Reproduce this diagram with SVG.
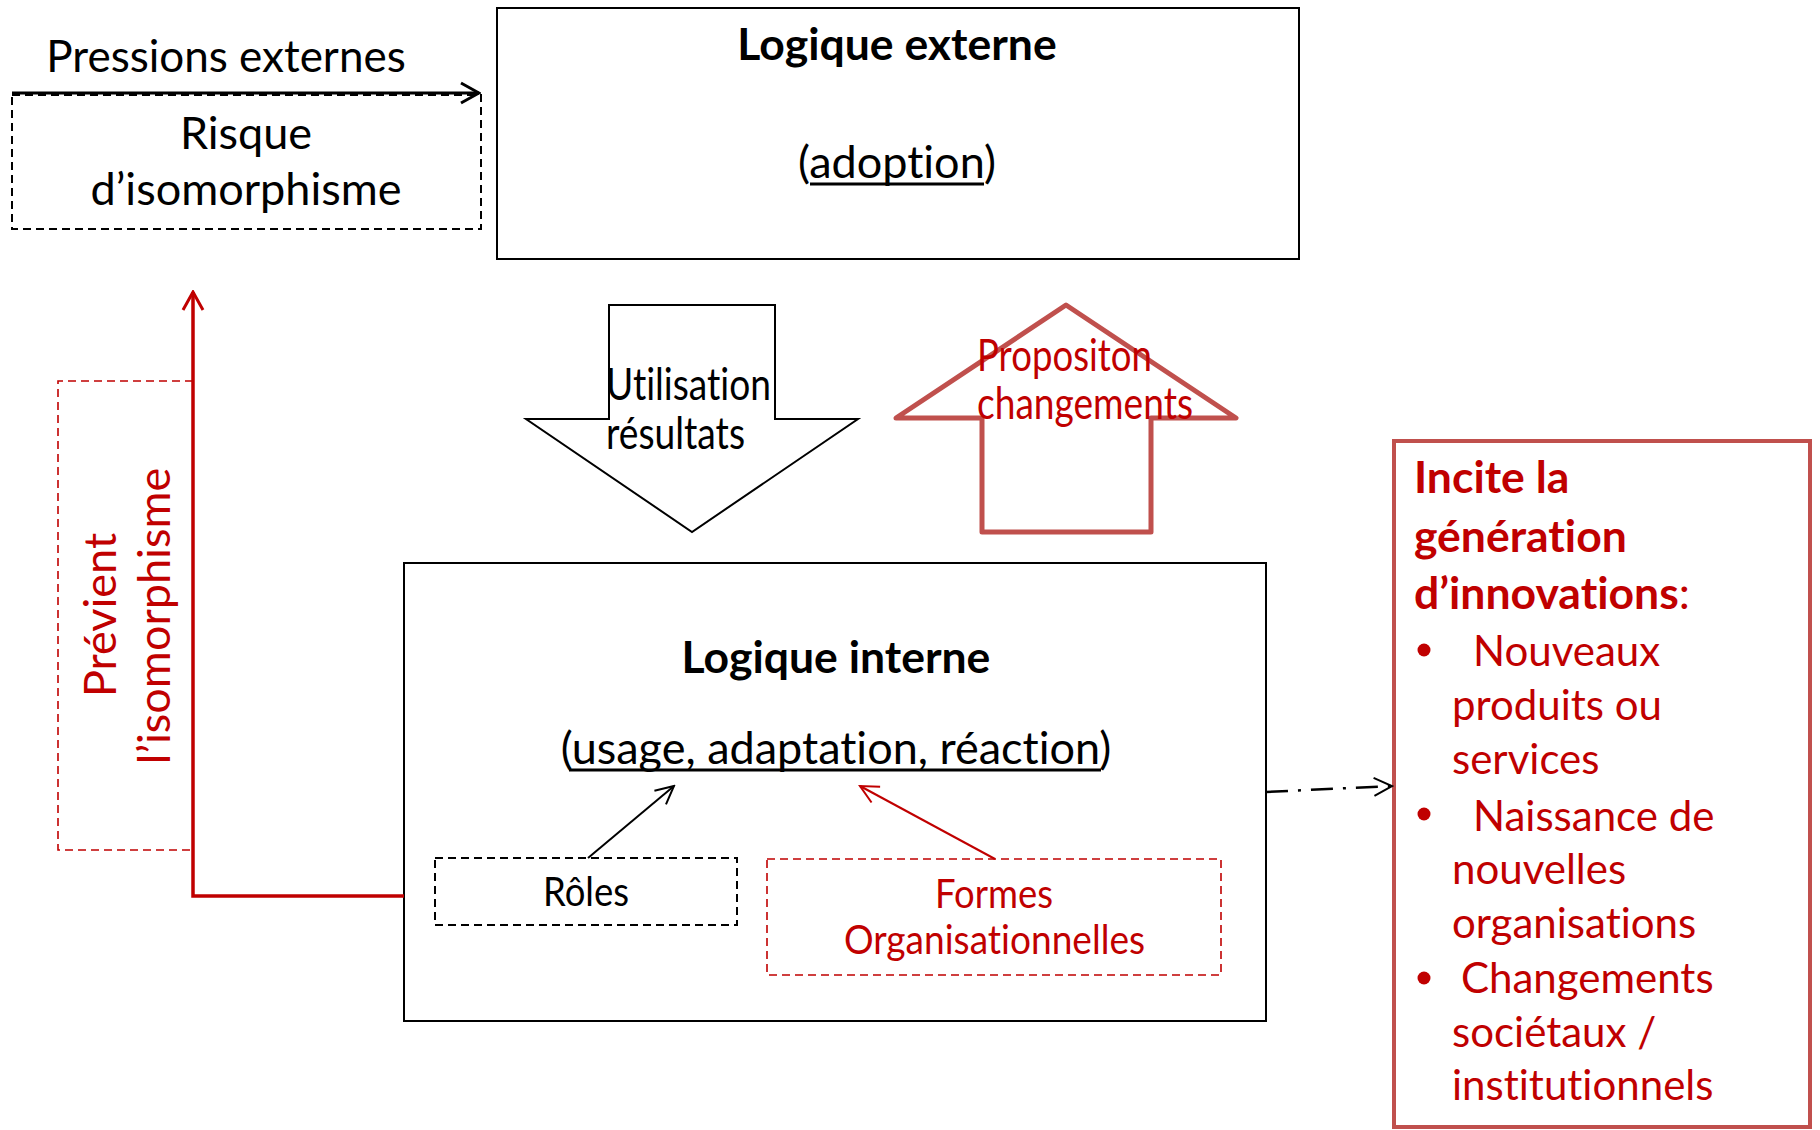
<svg xmlns="http://www.w3.org/2000/svg" width="1820" height="1130" viewBox="0 0 1820 1130">
<defs>
<style>
text{font-family:Lato,"Open Sans","Liberation Sans",sans-serif;font-variant-ligatures:none;}
.k{fill:#000;}
.r{fill:#C00000;}
.b{font-weight:bold;}
.s45{font-size:45px;}
.sb{font-size:44.5px;font-weight:bold;}
.s40{font-size:40px;}
.s42{font-size:42px;}
.s44{font-size:44px;}
.box{fill:#fff;stroke:#000;stroke-width:2;}
.dash{fill:none;stroke:#000;stroke-width:2;stroke-dasharray:8,5;}
.rdash{fill:none;stroke:#C00000;stroke-width:1.6;stroke-dasharray:8,5;}
</style>
<marker id="ak" markerUnits="userSpaceOnUse" viewBox="0 0 22 24" refX="20" refY="12" markerWidth="22" markerHeight="24" orient="auto">
<path d="M2,2 L20,12 L2,22" fill="none" stroke="#000" stroke-width="3"/>
</marker>
<marker id="ak2" markerUnits="userSpaceOnUse" viewBox="0 0 22 24" refX="20" refY="12" markerWidth="22" markerHeight="24" orient="auto">
<path d="M2,3 L20,12 L2,21" fill="none" stroke="#000" stroke-width="2"/>
</marker>
<marker id="ar" markerUnits="userSpaceOnUse" viewBox="0 0 22 24" refX="20" refY="12" markerWidth="22" markerHeight="24" orient="auto">
<path d="M2,2 L20,12 L2,22" fill="none" stroke="#C00000" stroke-width="3"/>
</marker>
<marker id="ar2" markerUnits="userSpaceOnUse" viewBox="0 0 22 24" refX="20" refY="12" markerWidth="22" markerHeight="24" orient="auto">
<path d="M2,3 L20,12 L2,21" fill="none" stroke="#C00000" stroke-width="2"/>
</marker>
</defs>
<rect width="1820" height="1130" fill="#fff"/>

<g id="risque">
<rect class="dash" x="12" y="95" width="469" height="134"/>
<text class="k s45" x="246" y="149" text-anchor="middle">Risque</text>
<text class="k s45" x="246" y="205" text-anchor="middle">d’isomorphisme</text>
</g>

<g id="logique-externe">
<rect class="box" x="497" y="8" width="802" height="251"/>
<text class="k sb" x="897" y="60" text-anchor="middle">Logique externe</text>
<text class="k s45" x="897" y="178" text-anchor="middle">(adoption)</text>
<line x1="810" y1="184" x2="984" y2="184" stroke="#000" stroke-width="3"/>
</g>

<g id="utilisation">
<polygon points="609,305 775,305 775,419 858,419 692,532 526,419 609,419" fill="#fff" stroke="#000" stroke-width="2"/>
<text class="k s44" x="606" y="400" textLength="165" lengthAdjust="spacingAndGlyphs">Utilisation</text>
<text class="k s44" x="606" y="449" textLength="139" lengthAdjust="spacingAndGlyphs">résultats</text>
</g>

<g id="proposition">
<polygon points="1066,305 1236,418 1151,418 1151,532 982,532 982,418 896,418" fill="#fff" stroke="#C0504D" stroke-width="5" stroke-linejoin="round"/>
<text class="r s44" x="977" y="371" textLength="175" lengthAdjust="spacingAndGlyphs">Propositon</text>
<text class="r s44" x="977" y="419" textLength="216" lengthAdjust="spacingAndGlyphs">changements</text>
</g>

<g id="logique-interne">
<rect class="box" x="404" y="563" width="862" height="458"/>
<text class="k sb" x="836" y="673" text-anchor="middle">Logique interne</text>
<text class="k s45" x="836" y="764" text-anchor="middle">(usage, adaptation, réaction)</text>
<line x1="569" y1="770" x2="1101" y2="770" stroke="#000" stroke-width="3"/>
</g>

<g id="roles">
<rect class="dash" x="435" y="858" width="302" height="67"/>
<text class="k s40" x="543" y="906" textLength="86" lengthAdjust="spacingAndGlyphs">Rôles</text>
</g>

<g id="formes">
<rect class="rdash" x="767" y="859" width="454" height="116"/>
<text class="r s40" x="935" y="908" textLength="118" lengthAdjust="spacingAndGlyphs">Formes</text>
<text class="r s40" x="844" y="954" textLength="301" lengthAdjust="spacingAndGlyphs">Organisationnelles</text>
</g>

<g id="previent">
<path d="M193,381 L58,381 L58,850 L193,850" class="rdash"/>
<text class="r s45" transform="translate(116,615) rotate(-90)" text-anchor="middle">Prévient</text>
<text class="r s45" transform="translate(170,616) rotate(-90)" text-anchor="middle">l’isomorphisme</text>
</g>

<g id="pressions">
<text class="k s44" x="226" y="72" text-anchor="middle">Pressions externes</text>
</g>

<g id="innovations">
<rect x="1394" y="441" width="416" height="686" fill="#fff" stroke="#C0504D" stroke-width="4"/>
<text class="r sb" x="1414" y="493">Incite la</text>
<text class="r sb" x="1414" y="552">génération</text>
<text class="r sb" x="1414" y="609">d’innovations<tspan font-weight="normal">:</tspan></text>
<circle cx="1424" cy="650" r="6.5" fill="#C00000"/>
<circle cx="1424" cy="814" r="6.5" fill="#C00000"/>
<circle cx="1424" cy="978" r="6.5" fill="#C00000"/>
<text class="r s42" x="1473" y="666">Nouveaux</text>
<text class="r s42" x="1452" y="720">produits ou</text>
<text class="r s42" x="1452" y="774">services</text>
<text class="r s42" x="1473" y="831">Naissance de</text>
<text class="r s42" x="1452" y="884">nouvelles</text>
<text class="r s42" x="1452" y="938">organisations</text>
<text class="r s42" x="1461" y="993">Changements</text>
<text class="r s42" x="1452" y="1047">sociétaux /</text>
<text class="r s42" x="1452" y="1100">institutionnels</text>
</g>

<g id="connectors">
<line x1="12" y1="93" x2="479" y2="93" stroke="#000" stroke-width="3" marker-end="url(#ak)"/>
<polyline points="404,896 193,896 193,292" fill="none" stroke="#C00000" stroke-width="3.5" marker-end="url(#ar)"/>
<line x1="588" y1="858" x2="674" y2="786" stroke="#000" stroke-width="2" marker-end="url(#ak2)"/>
<line x1="995" y1="859" x2="860" y2="786" stroke="#C00000" stroke-width="2" marker-end="url(#ar2)"/>
<line x1="1266" y1="792" x2="1392" y2="786" stroke="#000" stroke-width="2.5" stroke-dasharray="22,10,3,10" marker-end="url(#ak2)"/>
</g>
</svg>
